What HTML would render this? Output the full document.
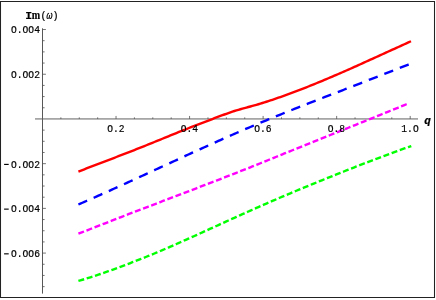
<!DOCTYPE html>
<html><head><meta charset="utf-8"><style>
html,body{margin:0;padding:0;background:#fff;}
svg{display:block;}
text{font-family:"Liberation Mono",monospace;font-size:10px;fill:#000;stroke:#000;stroke-width:0.2px;}
</style></head><body>
<svg width="436" height="300" viewBox="0 0 436 300">
<rect x="0" y="0" width="436" height="300" fill="#fff"/>
<path d="M0.5,1 V298 M0,1.5 H435 M434.5,1 V298 M0,297.5 H435" fill="none" stroke="#222" stroke-width="1.05"/>
<g stroke="#505050" stroke-width="1" fill="none">
<path d="M42.5,28.3 V293.6" stroke="#585858"/>
<path d="M35,118.95 H418" stroke="#606060"/>
<path d="M60.89,118.95 V117.35 M79.27,118.95 V117.35 M97.66,118.95 V117.35 M116.04,118.95 V115.95 M134.43,118.95 V117.35 M152.81,118.95 V117.35 M171.20,118.95 V117.35 M189.58,118.95 V115.95 M207.97,118.95 V117.35 M226.35,118.95 V117.35 M244.74,118.95 V117.35 M263.12,118.95 V115.95 M281.50,118.95 V117.35 M299.89,118.95 V117.35 M318.27,118.95 V117.35 M336.66,118.95 V115.95 M355.05,118.95 V117.35 M373.43,118.95 V117.35 M391.81,118.95 V117.35 M410.20,118.95 V115.95 M42.50,286.63 H44.60 M42.50,275.45 H44.60 M42.50,264.27 H44.60 M42.50,253.09 H45.90 M42.50,241.91 H44.60 M42.50,230.74 H44.60 M42.50,219.56 H44.60 M42.50,208.38 H45.90 M42.50,197.20 H44.60 M42.50,186.02 H44.60 M42.50,174.84 H44.60 M42.50,163.66 H45.90 M42.50,152.49 H44.60 M42.50,141.31 H44.60 M42.50,130.13 H44.60 M42.50,107.77 H44.60 M42.50,96.59 H44.60 M42.50,85.41 H44.60 M42.50,74.24 H45.90 M42.50,63.06 H44.60 M42.50,51.88 H44.60 M42.50,40.70 H44.60 M42.50,29.52 H45.90" stroke-width="0.8"/>
</g>
<g fill="none" stroke-width="2.4" stroke-linejoin="round">
<path d="M78.40,171.55 L80.40,170.78 L82.40,170.02 L84.40,169.26 L86.40,168.49 L88.40,167.73 L90.40,166.96 L92.40,166.20 L94.40,165.43 L96.40,164.67 L98.40,163.90 L100.40,163.13 L102.40,162.36 L104.40,161.59 L106.40,160.83 L108.40,160.06 L110.40,159.30 L112.40,158.53 L114.40,157.77 L116.40,157.00 L118.40,156.23 L120.40,155.46 L122.40,154.69 L124.40,153.92 L126.40,153.14 L128.40,152.37 L130.40,151.58 L132.40,150.80 L134.40,150.01 L136.40,149.22 L138.40,148.43 L140.40,147.64 L142.40,146.84 L144.40,146.04 L146.40,145.24 L148.40,144.43 L150.40,143.63 L152.40,142.82 L154.40,142.01 L156.40,141.19 L158.40,140.38 L160.40,139.56 L162.40,138.74 L164.40,137.93 L166.40,137.10 L168.40,136.28 L170.40,135.46 L172.40,134.65 L174.40,133.84 L176.40,133.03 L178.40,132.22 L180.40,131.42 L182.40,130.62 L184.40,129.83 L186.40,129.04 L188.40,128.25 L190.40,127.46 L192.40,126.68 L194.40,125.91 L196.40,125.15 L198.40,124.39 L200.40,123.64 L202.40,122.90 L204.40,122.15 L206.40,121.38 L208.40,120.59 L210.40,119.80 L212.40,119.01 L214.40,118.24 L216.40,117.49 L218.40,116.73 L220.40,115.98 L222.40,115.24 L224.40,114.50 L226.40,113.76 L228.40,113.01 L230.40,112.27 L232.40,111.59 L234.40,110.99 L236.40,110.40 L238.40,109.81 L240.40,109.23 L242.40,108.65 L244.40,108.09 L246.40,107.55 L248.40,107.01 L250.40,106.47 L252.40,105.93 L254.40,105.38 L256.40,104.83 L258.40,104.24 L260.40,103.63 L262.40,103.01 L264.40,102.39 L266.40,101.75 L268.40,101.11 L270.40,100.45 L272.40,99.79 L274.40,99.11 L276.40,98.42 L278.40,97.72 L280.40,97.02 L282.40,96.31 L284.40,95.59 L286.40,94.87 L288.40,94.14 L290.40,93.40 L292.40,92.66 L294.40,91.91 L296.40,91.16 L298.40,90.40 L300.40,89.63 L302.40,88.86 L304.40,88.08 L306.40,87.29 L308.40,86.49 L310.40,85.69 L312.40,84.88 L314.40,84.07 L316.40,83.25 L318.40,82.43 L320.40,81.60 L322.40,80.77 L324.40,79.94 L326.40,79.10 L328.40,78.26 L330.40,77.41 L332.40,76.57 L334.40,75.71 L336.40,74.86 L338.40,73.99 L340.40,73.13 L342.40,72.25 L344.40,71.38 L346.40,70.50 L348.40,69.61 L350.40,68.73 L352.40,67.84 L354.40,66.94 L356.40,66.05 L358.40,65.15 L360.40,64.25 L362.40,63.34 L364.40,62.44 L366.40,61.53 L368.40,60.62 L370.40,59.71 L372.40,58.80 L374.40,57.89 L376.40,56.98 L378.40,56.07 L380.40,55.16 L382.40,54.25 L384.40,53.34 L386.40,52.43 L388.40,51.52 L390.40,50.62 L392.40,49.71 L394.40,48.81 L396.40,47.91 L398.40,47.01 L400.40,46.11 L402.40,45.20 L404.40,44.28 L406.40,43.36 L408.40,42.43 L410.40,41.50 L411.00,41.23" stroke="#ff0000"/>
<path d="M78.40,204.49 L80.40,203.62 L82.40,202.76 L84.40,201.89 L86.40,201.01 L88.40,200.14 L90.40,199.26 L92.40,198.38 L94.40,197.49 L96.40,196.61 L98.40,195.72 L100.40,194.83 L102.40,193.93 L104.40,193.04 L106.40,192.14 L108.40,191.24 L110.40,190.34 L112.40,189.44 L114.40,188.53 L116.40,187.63 L118.40,186.72 L120.40,185.81 L122.40,184.90 L124.40,183.99 L126.40,183.08 L128.40,182.16 L130.40,181.25 L132.40,180.33 L134.40,179.41 L136.40,178.49 L138.40,177.58 L140.40,176.66 L142.40,175.73 L144.40,174.81 L146.40,173.89 L148.40,172.97 L150.40,172.05 L152.40,171.12 L154.40,170.20 L156.40,169.28 L158.40,168.35 L160.40,167.43 L162.40,166.50 L164.40,165.58 L166.40,164.66 L168.40,163.73 L170.40,162.81 L172.40,161.89 L174.40,160.97 L176.40,160.04 L178.40,159.12 L180.40,158.20 L182.40,157.28 L184.40,156.37 L186.40,155.45 L188.40,154.53 L190.40,153.61 L192.40,152.70 L194.40,151.79 L196.40,150.87 L198.40,149.96 L200.40,149.05 L202.40,148.14 L204.40,147.24 L206.40,146.33 L208.40,145.43 L210.40,144.53 L212.40,143.63 L214.40,142.73 L216.40,141.84 L218.40,140.94 L220.40,140.05 L222.40,139.16 L224.40,138.27 L226.40,137.39 L228.40,136.51 L230.40,135.63 L232.40,134.75 L234.40,133.87 L236.40,133.00 L238.40,132.13 L240.40,131.27 L242.40,130.40 L244.40,129.54 L246.40,128.68 L248.40,127.83 L250.40,126.98 L252.40,126.13 L254.40,125.29 L256.40,124.44 L258.40,123.61 L260.40,122.77 L262.40,121.94 L264.40,121.11 L266.40,120.28 L268.40,119.45 L270.40,118.63 L272.40,117.81 L274.40,117.00 L276.40,116.18 L278.40,115.37 L280.40,114.56 L282.40,113.75 L284.40,112.95 L286.40,112.15 L288.40,111.35 L290.40,110.55 L292.40,109.75 L294.40,108.96 L296.40,108.16 L298.40,107.37 L300.40,106.58 L302.40,105.79 L304.40,105.01 L306.40,104.22 L308.40,103.44 L310.40,102.66 L312.40,101.88 L314.40,101.10 L316.40,100.33 L318.40,99.55 L320.40,98.77 L322.40,98.00 L324.40,97.23 L326.40,96.46 L328.40,95.69 L330.40,94.92 L332.40,94.15 L334.40,93.37 L336.40,92.60 L338.40,91.83 L340.40,91.05 L342.40,90.28 L344.40,89.50 L346.40,88.73 L348.40,87.95 L350.40,87.17 L352.40,86.39 L354.40,85.61 L356.40,84.83 L358.40,84.05 L360.40,83.27 L362.40,82.49 L364.40,81.71 L366.40,80.93 L368.40,80.15 L370.40,79.37 L372.40,78.59 L374.40,77.82 L376.40,77.04 L378.40,76.26 L380.40,75.48 L382.40,74.70 L384.40,73.92 L386.40,73.14 L388.40,72.36 L390.40,71.58 L392.40,70.80 L394.40,70.02 L396.40,69.24 L398.40,68.45 L400.40,67.67 L402.40,66.88 L404.40,66.09 L406.40,65.30 L408.40,64.51 L410.40,63.72 L411.00,63.48" stroke="#0000ff" stroke-dasharray="9.5 7.135"/>
<path d="M78.40,233.68 L80.40,232.90 L82.40,232.12 L84.40,231.34 L86.40,230.56 L88.40,229.78 L90.40,229.00 L92.40,228.22 L94.40,227.44 L96.40,226.66 L98.40,225.88 L100.40,225.10 L102.40,224.33 L104.40,223.54 L106.40,222.76 L108.40,221.98 L110.40,221.20 L112.40,220.42 L114.40,219.63 L116.40,218.85 L118.40,218.07 L120.40,217.29 L122.40,216.52 L124.40,215.74 L126.40,214.97 L128.40,214.20 L130.40,213.44 L132.40,212.68 L134.40,211.91 L136.40,211.15 L138.40,210.39 L140.40,209.62 L142.40,208.86 L144.40,208.10 L146.40,207.34 L148.40,206.58 L150.40,205.81 L152.40,205.05 L154.40,204.29 L156.40,203.53 L158.40,202.77 L160.40,202.01 L162.40,201.24 L164.40,200.48 L166.40,199.72 L168.40,198.96 L170.40,198.20 L172.40,197.43 L174.40,196.67 L176.40,195.91 L178.40,195.15 L180.40,194.38 L182.40,193.62 L184.40,192.86 L186.40,192.09 L188.40,191.33 L190.40,190.56 L192.40,189.80 L194.40,189.03 L196.40,188.26 L198.40,187.50 L200.40,186.73 L202.40,185.96 L204.40,185.19 L206.40,184.42 L208.40,183.65 L210.40,182.88 L212.40,182.11 L214.40,181.34 L216.40,180.56 L218.40,179.79 L220.40,179.01 L222.40,178.24 L224.40,177.46 L226.40,176.69 L228.40,175.91 L230.40,175.13 L232.40,174.35 L234.40,173.57 L236.40,172.78 L238.40,172.00 L240.40,171.22 L242.40,170.43 L244.40,169.64 L246.40,168.86 L248.40,168.06 L250.40,167.27 L252.40,166.47 L254.40,165.67 L256.40,164.87 L258.40,164.06 L260.40,163.25 L262.40,162.44 L264.40,161.63 L266.40,160.82 L268.40,160.01 L270.40,159.19 L272.40,158.38 L274.40,157.56 L276.40,156.74 L278.40,155.93 L280.40,155.11 L282.40,154.30 L284.40,153.48 L286.40,152.67 L288.40,151.86 L290.40,151.05 L292.40,150.24 L294.40,149.43 L296.40,148.63 L298.40,147.83 L300.40,147.03 L302.40,146.23 L304.40,145.43 L306.40,144.63 L308.40,143.83 L310.40,143.03 L312.40,142.23 L314.40,141.42 L316.40,140.62 L318.40,139.82 L320.40,139.02 L322.40,138.22 L324.40,137.41 L326.40,136.61 L328.40,135.81 L330.40,135.00 L332.40,134.20 L334.40,133.39 L336.40,132.59 L338.40,131.79 L340.40,130.98 L342.40,130.17 L344.40,129.37 L346.40,128.56 L348.40,127.76 L350.40,126.95 L352.40,126.14 L354.40,125.33 L356.40,124.53 L358.40,123.72 L360.40,122.91 L362.40,122.10 L364.40,121.29 L366.40,120.49 L368.40,119.68 L370.40,118.87 L372.40,118.06 L374.40,117.25 L376.40,116.44 L378.40,115.63 L380.40,114.82 L382.40,114.01 L384.40,113.20 L386.40,112.39 L388.40,111.57 L390.40,110.76 L392.40,109.95 L394.40,109.14 L396.40,108.33 L398.40,107.52 L400.40,106.70 L402.40,105.89 L404.40,105.08 L406.40,104.26 L407.60,103.78" stroke="#ff00ff" stroke-dasharray="6 2.673"/>
<path d="M78.40,280.96 L80.40,280.37 L82.40,279.77 L84.40,279.16 L86.40,278.55 L88.40,277.92 L90.40,277.29 L92.40,276.65 L94.40,276.00 L96.40,275.34 L98.40,274.67 L100.40,274.00 L102.40,273.32 L104.40,272.63 L106.40,271.93 L108.40,271.22 L110.40,270.51 L112.40,269.79 L114.40,269.07 L116.40,268.34 L118.40,267.60 L120.40,266.85 L122.40,266.10 L124.40,265.34 L126.40,264.57 L128.40,263.80 L130.40,263.02 L132.40,262.24 L134.40,261.46 L136.40,260.68 L138.40,259.90 L140.40,259.12 L142.40,258.34 L144.40,257.55 L146.40,256.75 L148.40,255.95 L150.40,255.15 L152.40,254.34 L154.40,253.51 L156.40,252.68 L158.40,251.84 L160.40,250.99 L162.40,250.13 L164.40,249.27 L166.40,248.40 L168.40,247.53 L170.40,246.66 L172.40,245.78 L174.40,244.90 L176.40,244.02 L178.40,243.13 L180.40,242.25 L182.40,241.36 L184.40,240.46 L186.40,239.57 L188.40,238.67 L190.40,237.77 L192.40,236.87 L194.40,235.97 L196.40,235.07 L198.40,234.16 L200.40,233.25 L202.40,232.35 L204.40,231.44 L206.40,230.53 L208.40,229.62 L210.40,228.71 L212.40,227.80 L214.40,226.89 L216.40,225.98 L218.40,225.06 L220.40,224.15 L222.40,223.24 L224.40,222.33 L226.40,221.42 L228.40,220.52 L230.40,219.61 L232.40,218.70 L234.40,217.80 L236.40,216.89 L238.40,215.99 L240.40,215.09 L242.40,214.19 L244.40,213.29 L246.40,212.40 L248.40,211.51 L250.40,210.62 L252.40,209.73 L254.40,208.84 L256.40,207.96 L258.40,207.08 L260.40,206.20 L262.40,205.32 L264.40,204.44 L266.40,203.57 L268.40,202.70 L270.40,201.83 L272.40,200.96 L274.40,200.10 L276.40,199.24 L278.40,198.38 L280.40,197.52 L282.40,196.67 L284.40,195.81 L286.40,194.96 L288.40,194.11 L290.40,193.27 L292.40,192.42 L294.40,191.58 L296.40,190.74 L298.40,189.90 L300.40,189.07 L302.40,188.24 L304.40,187.41 L306.40,186.58 L308.40,185.75 L310.40,184.93 L312.40,184.11 L314.40,183.29 L316.40,182.48 L318.40,181.66 L320.40,180.85 L322.40,180.04 L324.40,179.24 L326.40,178.43 L328.40,177.63 L330.40,176.83 L332.40,176.03 L334.40,175.24 L336.40,174.44 L338.40,173.64 L340.40,172.84 L342.40,172.04 L344.40,171.24 L346.40,170.45 L348.40,169.65 L350.40,168.86 L352.40,168.07 L354.40,167.28 L356.40,166.49 L358.40,165.71 L360.40,164.93 L362.40,164.15 L364.40,163.37 L366.40,162.60 L368.40,161.83 L370.40,161.07 L372.40,160.31 L374.40,159.55 L376.40,158.79 L378.40,158.04 L380.40,157.29 L382.40,156.54 L384.40,155.80 L386.40,155.06 L388.40,154.32 L390.40,153.58 L392.40,152.84 L394.40,152.11 L396.40,151.38 L398.40,150.66 L400.40,149.93 L402.40,149.21 L404.40,148.49 L406.40,147.78 L408.40,147.07 L410.40,146.36 L411.30,146.04" stroke="#00ff00" stroke-dasharray="6 2.68"/>
</g>
<g id="txt" style="filter:grayscale(1)">
<text transform="translate(115.84,132.3) scale(0.962,1)" text-anchor="middle">O.2</text>
<text transform="translate(189.38,132.3) scale(0.962,1)" text-anchor="middle">O.4</text>
<text transform="translate(262.92,132.3) scale(0.962,1)" text-anchor="middle">O.6</text>
<text transform="translate(336.46,132.3) scale(0.962,1)" text-anchor="middle">O.8</text>
<text transform="translate(410.00,132.3) scale(0.962,1)" text-anchor="middle">1.O</text>

<text transform="translate(39.9,33.42) scale(0.962,1)" text-anchor="end">O.OO4</text>
<text transform="translate(39.9,78.14) scale(0.962,1)" text-anchor="end">O.OO2</text>
<text transform="translate(39.9,167.56) scale(0.962,1)" text-anchor="end">O.OO2</text>
<path d="M4.1,164.41 H8.7" stroke="#000" stroke-width="1.15" fill="none"/>
<text transform="translate(39.9,212.28) scale(0.962,1)" text-anchor="end">O.OO4</text>
<path d="M4.1,209.13 H8.7" stroke="#000" stroke-width="1.15" fill="none"/>
<text transform="translate(39.9,256.99) scale(0.962,1)" text-anchor="end">O.OO6</text>
<path d="M4.1,253.84 H8.7" stroke="#000" stroke-width="1.15" fill="none"/>

<g font-size="11.4" text-anchor="middle">
<text transform="translate(28.8,18.9) scale(1.15,1)" font-weight="bold" stroke="none">I</text>
<text transform="translate(36.0,18.9) scale(0.8,1)" font-weight="bold" stroke="none" style="font-family:'Liberation Serif',serif;font-size:12.6px">m</text>
<text x="43.6" y="18.9">(</text>
<text x="49.5" y="18.9" font-style="italic">ω</text>
<text x="55.6" y="18.9">)</text>
</g>
<text transform="translate(424.2,123.8) scale(1.1,1.03)" font-style="italic" font-weight="bold" font-size="11.6" stroke="none">q</text>
</g>
</svg>
</body></html>
